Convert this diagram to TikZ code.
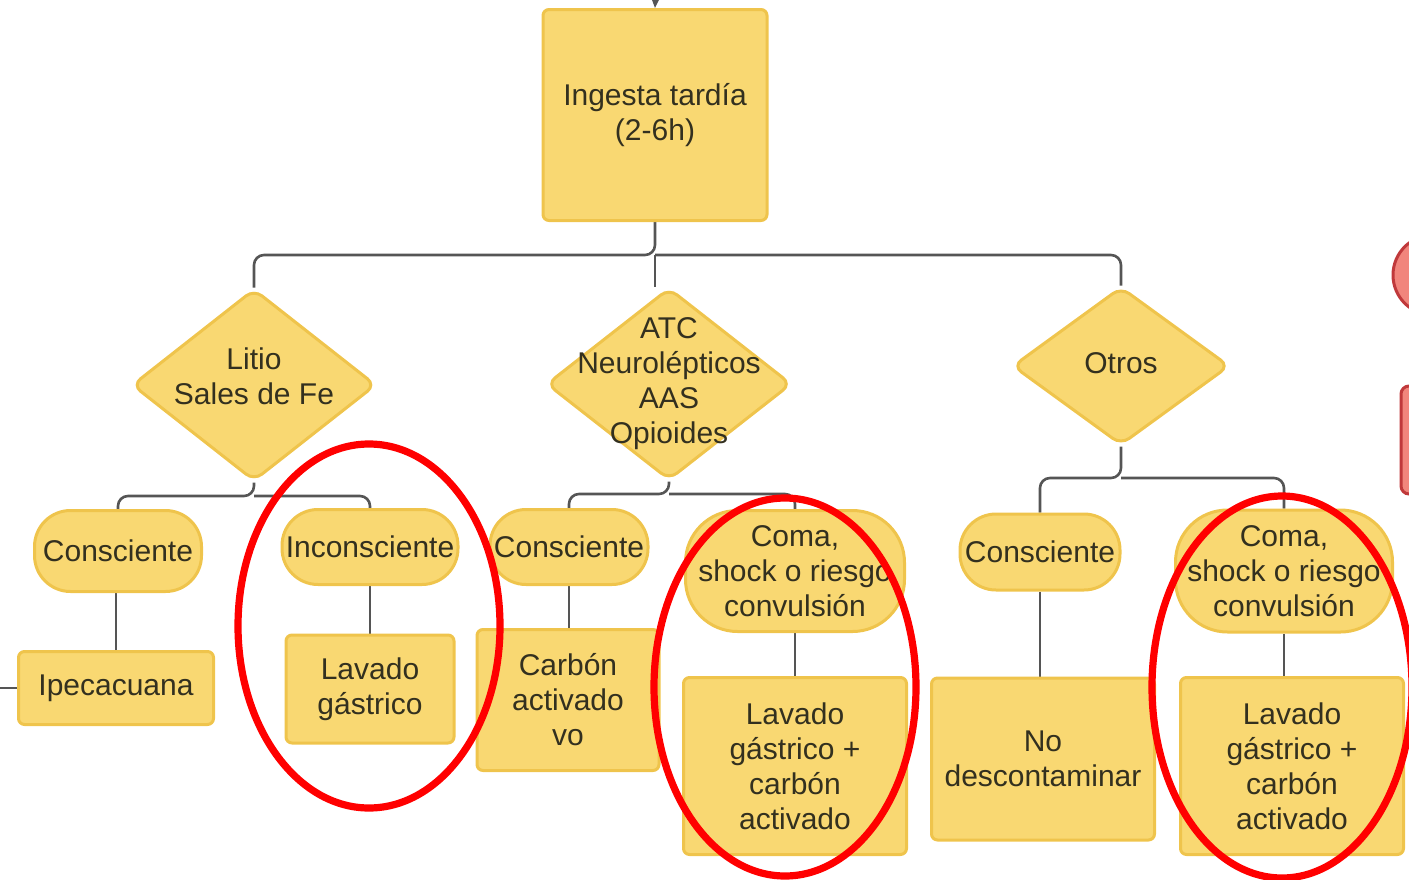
\documentclass[tikz,border=0pt]{standalone}
\usepackage{fontspec}
\setmainfont{Liberation Sans}
\usetikzlibrary{shapes.geometric,arrows.meta}
\definecolor{yfill}{HTML}{F9D872}
\definecolor{ydraw}{HTML}{EFC44C}
\definecolor{txtc}{HTML}{33301F}
\definecolor{lnc}{HTML}{555555}
\definecolor{salmon}{HTML}{F1857C}
\definecolor{darkred}{HTML}{C0393B}
\pgfdeclarelayer{background}
\pgfsetlayers{background,main}
\tikzset{
  base/.style={fill=yfill,draw=ydraw,line width=1.5pt,text=txtc,inner sep=0pt,align=center,
    font=\fontsize{15pt}{17.5pt}\selectfont},
  lbl/.style={base,fill=none,draw=none},
  box/.style={base,rectangle,rounded corners=3pt},
  pill/.style={base,rectangle,rounded corners=18pt},
  bigpill/.style={base,rectangle,rounded corners=26pt},
  dia/.style={base,diamond,rounded corners=5pt},
  conn/.style={draw=lnc,line width=1.3pt,rounded corners=5pt},
  ring/.style={draw=red,line width=3.6pt},
}
\begin{document}
\begin{tikzpicture}[x=0.5pt,y=-0.5pt]
\clip (0,0) rectangle (1409,879);
% partial shapes at right edge
\draw[fill=salmon,draw=darkred,line width=1.5pt] (1433,275) circle [radius=40];
\draw[fill=salmon,draw=darkred,line width=1.5pt,rounded corners=4pt] (1401,386) rectangle (1460,494);
% nodes
\node[box,minimum width=112pt,minimum height=105.5pt] (top) at (655,115) {Ingesta tardía\\(2-6h)};
\node[dia,minimum width=122pt,minimum height=96pt,label={[lbl,yshift=4.5pt]center:Litio\\Sales de Fe}] (d1) at (254,385) {};
\node[dia,minimum width=122.5pt,minimum height=96pt,label={[lbl]center:ATC\\Neurolépticos\\AAS\\Opioides}] (d2) at (669,384) {};
\node[dia,minimum width=108.5pt,minimum height=79pt,label={[lbl,yshift=1.5pt]center:Otros}] (d3) at (1121,366) {};
\node[pill,minimum width=83.5pt,minimum height=40.5pt] (c1) at (118,551) {Consciente};
\node[pill,minimum width=88pt,minimum height=37.5pt] (inc) at (370,547) {Inconsciente};
\node[pill,minimum width=79pt,minimum height=37.5pt] (c2) at (569,547) {Consciente};
\node[bigpill,minimum width=109.5pt,minimum height=60.5pt] (coma1) at (795,571) {Coma,\\shock o riesgo\\convulsión};
\node[pill,minimum width=80pt,minimum height=38pt] (c3) at (1040,552) {Consciente};
\node[bigpill,minimum width=108.5pt,minimum height=61pt] (coma2) at (1284,571) {Coma,\\shock o riesgo\\convulsión};
\node[box,minimum width=97.5pt,minimum height=36.5pt] (ipe) at (116,688) {Ipecacuana};
\node[box,minimum width=84pt,minimum height=54pt] (lav1) at (370,689) {Lavado\\gástrico};
\node[box,minimum width=91pt,minimum height=70.5pt] (carb) at (568,700) {Carbón\\activado\\vo};
\node[box,minimum width=111.5pt,minimum height=88.5pt] (lg1) at (795,766) {Lavado\\gástrico +\\carbón\\activado};
\node[box,minimum width=111.5pt,minimum height=81pt] (nod) at (1043,759) {No\\descontaminar};
\node[box,minimum width=111.5pt,minimum height=88.5pt] (lg2) at (1292,766) {Lavado\\gástrico +\\carbón\\activado};
% connectors
\coordinate (ain) at (657,-30);
\coordinate (lin) at (-10,688);
\coordinate (j0) at (655,255);
\coordinate (j1) at (254,496);
\coordinate (j2) at (669,494);
\coordinate (j3) at (1121,478);
\begin{pgfonlayer}{background}
\draw[conn,-{Stealth[length=7pt,width=6pt]}] (ain) -- (top.north);
\draw[conn] (lin) -- (ipe.west);
\draw[conn] (top.south) -- (j0) -| (d1.north);
\draw[conn] (j0) -| (d3.north);
\draw[conn] (j0) -- (j0 |- d2.north);
\draw[conn] (d1.south) -- (j1) -| (c1.north);
\draw[conn] (j1) -| (inc.north);
\draw[conn] (d2.south) -- (j2) -| (c2.north);
\draw[conn] (j2) -| (coma1.north);
\draw[conn] (d3.south) -- (j3) -| (c3.north);
\draw[conn] (j3) -| (coma2.north);
\draw[conn] (ipe.north) -- (ipe.north |- c1.south);
\draw[conn] (inc.south) -- (lav1.north);
\draw[conn] (c2.south) -- (c2.south |- carb.north);
\draw[conn] (coma1.south) -- (coma1.south |- lg1.north);
\draw[conn] (c3.south) -- (c3.south |- nod.north);
\draw[conn] (coma2.south) -- (coma2.south |- lg2.north);
\end{pgfonlayer}
% red rings
\draw[ring] (369,626) ellipse [x radius=131, y radius=182];
\draw[ring] (785,687) ellipse [x radius=131, y radius=189];
\draw[ring] (1282,687) ellipse [x radius=130, y radius=191];
\end{tikzpicture}
\end{document}
